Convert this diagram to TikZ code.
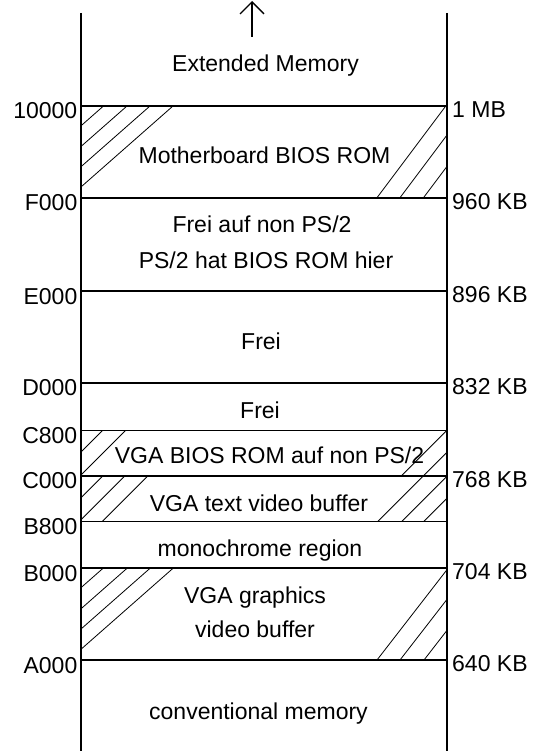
\documentclass[tikz,border=0pt]{standalone}
\usepackage{fontspec}
\setmainfont{Liberation Sans}
\usetikzlibrary{arrows.meta}

\begin{document}
\begin{tikzpicture}[
  x=1pt, y=-1pt,
  font=\fontsize{23}{27}\selectfont,
  wall/.style={line width=2pt},
  bound/.style={line width=2pt},
  minor/.style={line width=1pt},
  hatch/.style={line width=0.8pt},
  addr/.style={anchor=base east, inner sep=0pt},
  size/.style={anchor=base west, inner sep=0pt},
  region/.style={anchor=base, inner sep=0pt},
  upward/.style={-{Straight Barb[length=12pt, width=24pt]}, line width=1.3pt}
]
\useasboundingbox (0,0) rectangle (537,751);

\begin{scope}
  \clip (81,106) rectangle (446.5,197.7);
  \foreach \d in {22.5,46,69,92} \draw[hatch] (81+\d,106) -- ++(-110,96.8);
  \foreach \e in {69.5,46.5,23} \draw[hatch] (446.5-\e,197.7) -- ++(75,-100);
\end{scope}
\begin{scope}
  \clip (81,430) rectangle (446.5,475.7);
  \foreach \d in {22,45} \draw[hatch] (81+\d,430) -- ++(-60,60);
  \foreach \e in {45,23} \draw[hatch] (446.5-\e,475.7) -- ++(60,-60);
\end{scope}
\begin{scope}
  \clip (81,475.7) rectangle (446.5,521.7);
  \foreach \d in {22,44,67} \draw[hatch] (81+\d,475.7) -- ++(-60,60);
  \foreach \e in {69,45,23} \draw[hatch] (446.5-\e,521.7) -- ++(60,-60);
\end{scope}
\begin{scope}
  \clip (81,568.3) rectangle (446.5,660);
  \foreach \d in {22,46,69,92} \draw[hatch] (81+\d,568.3) -- ++(-110,96.8);
  \foreach \e in {69.5,46.5,22.5} \draw[hatch] (446.5-\e,660) -- ++(75,-96.8);
\end{scope}

\draw[wall] (81,13) -- (81,751);
\draw[wall] (446.5,13) -- (446.5,751);
\foreach \y in {106,197.7,291,382.7,475.7,568.3,660}
  \draw[bound] (81,\y) -- (446.5,\y);
\foreach \y in {430,521.7}
  \draw[minor] (81,\y) -- (446.5,\y);

\coordinate (arrtail) at (252,37);
\coordinate (arrhead) at (252,1);
\draw[upward] (arrtail) -- (arrhead);

\foreach \y/\a in {106/10000, 197.7/F000, 291/E000, 382.7/D000, 430/C800,
                   475.7/C000, 521.7/B800, 568.3/B000, 660/A000}
  \node[addr] (a\a) at (77.5,\y+13) {\a};
\foreach \y/\k/\n in {106/1 MB/kb1024, 197.7/960 KB/kb960, 291/896 KB/kb896,
                      382.7/832 KB/kb832, 475.7/768 KB/kb768,
                      568.3/704 KB/kb704, 660/640 KB/kb640}
  \node[size] (\n) at (452,\y+11.5) {\k};

\node[region] (extmem) at (265.5,71.7) {Extended Memory};
\node[region] (mbrom) at (264.5,163.3) {Motherboard BIOS ROM};
\node[region] (freiF) at (262,232.3) {Frei auf non PS/2};
\node[region] (ps2rom) at (266,268.3) {PS/2 hat BIOS ROM hier};
\node[region] (freiE) at (261,349.3) {Frei};
\node[region] (freiD) at (260,418) {Frei};
\node[region] (vgarom) at (269.5,463.3) {VGA BIOS ROM auf non PS/2};
\node[region] (vgatext) at (259,511.7) {VGA text video buffer};
\node[region] (mono) at (260,556.7) {monochrome region};
\node[region] (vgagfx) at (255,603) {VGA graphics};
\node[region] (vgabuf) at (255,637.7) {video buffer};
\node[region] (conv) at (258.5,719) {conventional memory};
\end{tikzpicture}
\end{document}
